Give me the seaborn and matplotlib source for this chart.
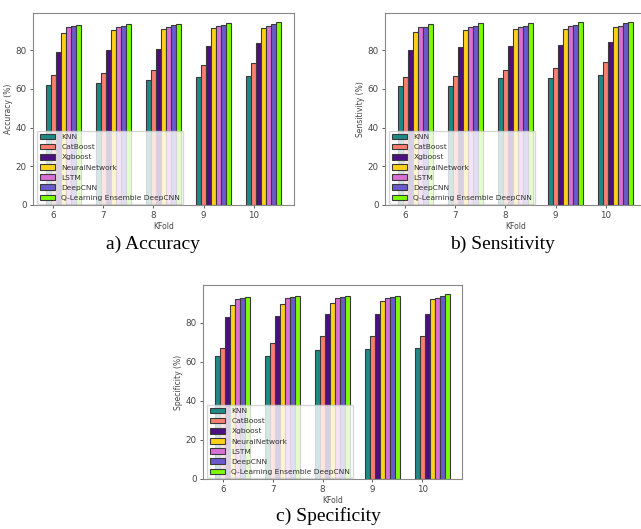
import matplotlib
matplotlib.use("Agg")
import matplotlib.pyplot as plt
import seaborn as sns
import pandas as pd

folds = [6, 7, 8, 9, 10]
models = ["KNN", "CatBoost", "Xgboost", "NeuralNetwork", "LSTM", "DeepCNN",
          "Q-Learning Ensemble DeepCNN"]
colors = ["#1f8a85", "#fa7f70", "#4b0f80", "#ffd21a", "#da70d6", "#6a5acd", "#7cfc00"]

# rows = models, columns = folds 6..10
accuracy = [
    [62.0, 63.0, 64.5, 66.0, 66.5],
    [67.0, 68.0, 70.0, 72.5, 73.5],
    [79.0, 80.0, 80.5, 82.0, 83.5],
    [89.0, 90.5, 91.0, 91.5, 91.5],
    [92.0, 92.0, 92.0, 92.5, 92.5],
    [92.5, 92.5, 93.0, 93.0, 93.5],
    [93.0, 93.5, 93.5, 94.0, 94.5],
]
sensitivity = [
    [61.5, 61.5, 65.5, 65.5, 67.0],
    [66.0, 66.5, 70.0, 71.0, 74.0],
    [80.0, 81.5, 82.0, 82.5, 84.0],
    [89.5, 90.5, 91.0, 91.0, 92.0],
    [92.0, 92.0, 92.0, 92.5, 92.5],
    [92.0, 92.5, 92.5, 93.0, 94.0],
    [93.5, 94.0, 94.0, 94.5, 94.5],
]
specificity = [
    [63.0, 63.0, 66.0, 66.5, 67.0],
    [67.0, 69.5, 73.0, 73.0, 73.0],
    [83.0, 83.5, 84.5, 84.5, 84.5],
    [89.0, 89.5, 90.0, 91.0, 92.0],
    [92.0, 92.5, 92.5, 92.5, 92.5],
    [92.5, 93.0, 93.0, 93.0, 93.5],
    [93.0, 93.5, 93.5, 93.5, 94.5],
]
ylabels = ["Accuracy (%)", "Sensitivity (%)", "Specificity (%)"]
captions = ["a) Accuracy", "b) Sensitivity", "c) Specificity"]

W, H = 641, 529
fig = plt.figure(figsize=(W / 100, H / 100), dpi=100)
fig.patch.set_facecolor("white")

boxes = [(33, 13, 261, 192), (385, 13, 261, 192), (203, 285, 259, 194)]
cap_pos = [(153, 244), (503, 244), (328, 516)]
datasets = [accuracy, sensitivity, specificity]

for data, ylab, cap, (l, t, w, h), (cx, cy) in zip(datasets, ylabels, captions, boxes, cap_pos):
    ax = fig.add_axes([l / W, 1 - (t + h) / H, w / W, h / H])
    rows = []
    for m, vals in zip(models, data):
        for f, v in zip(folds, vals):
            rows.append({"KFold": str(f), "Model": m, "Value": v})
    df = pd.DataFrame(rows)
    sns.barplot(data=df, x="KFold", y="Value", hue="Model", hue_order=models,
                order=[str(f) for f in folds], palette=colors, width=0.7,
                saturation=1, edgecolor="#3a3a3a", linewidth=0.8, ax=ax)
    ax.set_xticks([i - 0.2 for i in range(len(folds))])
    ax.set_xticklabels([str(f) for f in folds])
    ax.set_xlim(-0.6, 4.6)
    ax.set_ylim(0, 99.2)
    ax.set_yticks([0, 20, 40, 60, 80])
    ax.tick_params(labelsize=6.3, colors="#444444", length=2.5, width=0.6, pad=2)
    for s in ax.spines.values():
        s.set_color("#888888")
        s.set_linewidth(0.8)
    ax.set_xlabel("KFold", fontsize=5.5, color="#444444", labelpad=1.5)
    ax.set_ylabel(ylab, fontsize=5.5, color="#444444", labelpad=1.5)
    handles, labels = ax.get_legend_handles_labels()
    leg = ax.legend(handles, labels, loc="lower left", bbox_to_anchor=(0.01, 0.0),
                    borderaxespad=0.15, fontsize=5.4, framealpha=0.8,
                    handlelength=2.1, handleheight=0.75, labelspacing=0.5,
                    handletextpad=0.8, borderpad=0.4)
    for txt in leg.get_texts():
        txt.set_color("#333333")
    fig.text(cx / W, 1 - cy / H, cap, ha="center", va="center",
             family="Liberation Serif", fontsize=14)

fig.savefig("out.png", dpi=100, facecolor="white")
